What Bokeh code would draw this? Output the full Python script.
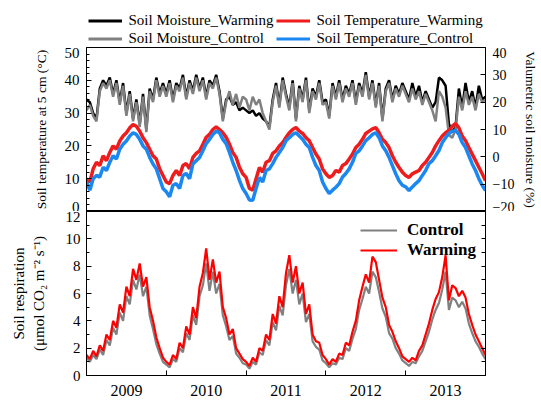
import numpy as np
from bokeh.plotting import figure
from bokeh.models import Range1d, LinearAxis, FixedTicker, Legend, LegendItem
from bokeh.layouts import column
from bokeh.embed import file_html
from bokeh.resources import INLINE

FONT = "Liberation Serif"

# ---------------- data (24 samples per year) ----------------
t0 = 2009.0
samples_per_year = 24
n_samples = 121
time = t0 + np.arange(n_samples) / samples_per_year

temp_warming = [
    10, 9, 13, 15, 14, 17, 15.5, 18, 20, 19, 21.5, 23, 24, 25.5, 26.5, 26, 24.5, 22.5, 21, 19, 17, 16, 13, 11,
    9, 8.5, 11, 12.5, 11, 14, 14.6, 13, 16.5, 17.7, 18.5, 20.5, 22.6, 23.5, 25, 25.8, 25, 24, 22.6, 20.5, 18, 16.5, 13.5, 11.5,
    10.4, 7, 6.5, 10, 13.4, 12, 15, 15.5, 17.7, 18.5, 20, 21, 22.6, 24, 25, 25.6, 24.5, 23.8, 22.5, 21.6, 19.5, 17.5, 16, 13,
    11.5, 10.4, 11, 12.5, 12, 14, 14.6, 16, 17.5, 19.5, 20.5, 22, 23.8, 24.5, 25.2, 25.6, 24, 22, 21, 19.5, 17, 15, 13.4, 12,
    11, 10.4, 11.5, 12, 12.5, 14, 15, 16.5, 18, 20, 21.6, 23, 24, 24.7, 26, 26.8, 25.5, 23, 21.6, 19.5, 17.5, 15.5, 13.5, 11.5, 9.4,
]
temp_control = [
    9, 6.5, 10, 11, 10.5, 13.5, 12.5, 15, 17, 16, 19, 20.5, 21.5, 23, 24, 23.5, 22, 20, 19, 16.5, 14.5, 13, 10, 7,
    6, 4.5, 8, 8.5, 7, 11, 11.6, 10, 14.5, 15.5, 16.5, 18.5, 20.7, 22, 23.5, 24.5, 24, 22, 20.7, 18, 15, 12.5, 9.5, 7,
    5.5, 3.5, 3.4, 7, 10.4, 9, 12.5, 13, 14.6, 16.5, 18, 19.5, 21.6, 22.5, 23.5, 24, 23, 22, 20.5, 19.5, 16.5, 14, 12.5, 9,
    7, 5.5, 6.5, 7.4, 8.5, 10.5, 11.6, 13, 15, 17.7, 18.5, 20, 21.6, 22.5, 23.5, 24, 22.5, 20, 18.5, 16.5, 14, 11.5, 9.4, 8,
    7.5, 6.4, 7.5, 8.5, 9.4, 11, 12.5, 14.6, 15.5, 17, 18.6, 21, 22.5, 23.8, 24.5, 24.7, 23.5, 21, 19.5, 17, 14.5, 12.5, 10, 8, 6.4,
]
moist_warming = [
    21, 20, 16, 14, 25, 28, 26, 29, 23, 28, 20, 27, 16, 24, 14, 21, 12, 23, 10, 25, 21, 29, 23, 27,
    23, 28, 21, 27, 25, 30, 22, 28, 24, 30, 25, 29, 22, 28, 26, 30, 24, 14, 21, 22, 19, 20, 17, 18,
    17, 16, 17, 15, 16, 14, 13, 11, 21, 27, 19, 29, 23, 18, 28, 14, 26, 21, 29, 17, 25, 22, 28, 20,
    21, 15, 27, 22, 28, 21, 26, 23, 28, 20, 27, 23, 31, 22, 28, 19, 27, 14, 25, 28, 21, 26, 23, 27,
    24, 21, 27, 22, 26, 20, 24, 21, 18, 20, 29, 28, 26, 12, 9, 11, 25, 18, 27, 20, 24, 18, 26, 21, 22,
]
moist_control = [
    17, 19, 15, 13, 24, 27, 25, 28, 22, 27, 19, 26, 15, 23, 13, 20, 11, 22, 9, 24, 20, 28, 22, 26,
    22, 27, 20, 26, 24, 29, 21, 27, 23, 29, 24, 28, 21, 27, 25, 29, 23, 13, 20, 24, 19, 23, 18, 22,
    21, 17, 22, 19, 21, 16, 13, 10, 20, 26, 18, 28, 22, 17, 27, 13, 25, 20, 28, 16, 24, 21, 27, 19,
    20, 14, 26, 21, 27, 20, 25, 22, 27, 19, 26, 22, 30, 21, 27, 18, 26, 13, 24, 27, 20, 25, 22, 26,
    23, 20, 25, 21, 24, 19, 23, 20, 17, 13, 24, 22, 18, 8, 7, 10, 22, 17, 24, 19, 22, 17, 23, 20, 21,
]
resp_warming = [
    1.5, 1.2, 1.8, 1.4, 2.2, 1.8, 3.0, 2.6, 4.0, 3.5, 5.2, 4.6, 6.5, 5.8, 7.8, 7.0, 8.2, 6.5, 7.2, 5.0, 4.0, 2.8, 2.0, 1.3,
    1.0, 0.8, 1.5, 1.2, 2.4, 2.0, 3.6, 3.0, 5.0, 4.2, 6.5, 7.5, 9.3, 7.0, 8.5, 6.8, 7.6, 5.0, 4.2, 3.0, 3.4, 2.0, 1.6, 1.2,
    1.0, 0.7, 1.3, 1.0, 2.0, 1.8, 3.0, 2.6, 4.5, 3.8, 5.8, 5.0, 7.5, 8.8, 6.8, 8.0, 6.0, 6.8, 4.5, 5.2, 3.0, 2.5, 2.4, 1.5,
    1.2, 0.8, 1.2, 1.0, 1.6, 1.5, 2.4, 2.2, 3.2, 4.0, 5.5, 6.5, 7.4, 6.8, 8.7, 8.3, 7.0, 5.7, 5.0, 3.7, 3.2, 2.5, 2.0, 1.4,
    1.2, 1.0, 1.3, 1.1, 1.8, 2.2, 3.0, 3.8, 4.8, 5.6, 6.1, 7.2, 8.8, 5.5, 6.6, 6.4, 5.8, 6.2, 5.7, 4.5, 3.7, 3.0, 2.5, 2.0, 1.5,
]
resp_control = [
    1.3, 1.0, 1.5, 1.2, 1.9, 1.5, 2.6, 2.2, 3.5, 3.0, 4.6, 4.0, 5.8, 5.2, 7.0, 6.3, 7.4, 5.8, 6.5, 4.4, 3.4, 2.3, 1.6, 1.0,
    0.8, 0.6, 1.2, 1.0, 2.0, 1.7, 3.1, 2.6, 4.4, 3.7, 5.8, 6.6, 8.2, 6.2, 7.6, 6.0, 6.7, 4.4, 3.6, 2.6, 2.9, 1.6, 1.3, 0.9,
    0.8, 0.5, 1.0, 0.8, 1.7, 1.5, 2.6, 2.2, 3.9, 3.3, 5.1, 4.4, 6.6, 7.8, 6.0, 7.0, 5.2, 6.0, 3.9, 4.5, 2.5, 2.1, 1.9, 1.1,
    0.9, 0.6, 0.9, 0.8, 1.3, 1.2, 2.0, 1.8, 2.7, 3.4, 4.8, 5.6, 6.5, 6.0, 7.6, 7.2, 6.1, 4.9, 4.3, 3.1, 2.7, 2.0, 1.6, 1.1,
    0.9, 0.7, 1.0, 0.9, 1.4, 1.8, 2.5, 3.2, 4.1, 4.8, 5.3, 6.3, 7.6, 4.8, 5.7, 5.5, 5.0, 5.4, 4.9, 3.8, 3.1, 2.5, 2.1, 1.6, 1.2,
]

year_bounds = [2009, 2010, 2011, 2012, 2013, 2014]
year_centers = [2009.5, 2010.5, 2011.5, 2012.5, 2013.5]
year_labels = ["2009", "2010", "2011", "2012", "2013"]
temp_ticks = [0, 10, 20, 30, 40, 50]
temp_minor = list(range(0, 51, 2))
moist_ticks = [-20, -10, 0, 10, 20, 30, 40]
moist_minor = list(range(-20, 41, 5))
resp_ticks = [0, 2, 4, 6, 8, 10, 12]
resp_minor = list(range(0, 13, 1))

top_legend = ["Soil Moisture_Warming", "Soil Moisture_Control",
              "Soil Temperature_Warming", "Soil Temperature_Control"]
bottom_legend = ["Control", "Warming"]

RED = "#ee1c1c"
BLUE = "#1a88f0"
GREY = "#808080"
BLACK = "#000000"

W = 541
LB, RB = 86, 54


def style_axis(ax, label_size="15px"):
    ax.axis_line_color = "black"
    ax.axis_line_width = 1
    ax.major_tick_line_color = "black"
    ax.minor_tick_line_color = "black"
    ax.major_tick_in = 5
    ax.major_tick_out = 0
    ax.minor_tick_in = 3
    ax.minor_tick_out = 0
    ax.major_label_text_font = FONT
    ax.major_label_text_font_size = label_size
    ax.major_label_text_color = "black"
    ax.axis_label_text_font = FONT
    ax.axis_label_text_font_style = "normal"
    ax.axis_label_text_font_size = "15px"
    ax.axis_label_text_color = "black"


def base_fig(height, x_range, y_range, left, right, top, bottom):
    f = figure(width=W, height=height, x_range=x_range, y_range=y_range,
               output_backend="svg", toolbar_location=None,
               x_axis_location=None, y_axis_location=None,
               min_border_left=left, min_border_right=right,
               min_border_top=top, min_border_bottom=bottom)
    f.background_fill_color = "white"
    f.border_fill_color = "white"
    f.grid.visible = False
    return f


xr = Range1d(2009, 2014)

# ---------------- legend strip (top); the key lines lie outside its view ----------------
p0 = base_fig(47, Range1d(0, 1), Range1d(0, 1), LB, RB, 0, 0)
p0.outline_line_color = None
k_smw = p0.line(time, moist_warming, line_color=BLACK, line_width=3)
k_smc = p0.line(time, moist_control, line_color=GREY, line_width=3)
k_stw = p0.line(time, temp_warming, line_color=RED, line_width=3)
k_stc = p0.line(time, temp_control, line_color=BLUE, line_width=3)
leg_top = Legend(items=[LegendItem(label=lab, renderers=[r])
                        for lab, r in zip(top_legend, [k_smw, k_smc, k_stw, k_stc])],
                 location=(1.5, 0.5), orientation="vertical", ncols=2,
                 label_text_font=FONT, label_text_font_size="15px", label_text_color="black",
                 glyph_width=34, glyph_height=17, label_height=17, label_width=146, label_standoff=7,
                 spacing=1, padding=1, margin=0,
                 border_line_color=None, background_fill_alpha=0)
p0.add_layout(leg_top)

# ---------------- top panel ----------------
p1 = base_fig(164, xr, Range1d(0, 50), LB, RB, 0, 0)
p1.extra_y_ranges = {"moist": Range1d(-20, 40)}
p1.outline_line_color = "black"
p1.outline_line_width = 1

ax_l = LinearAxis(ticker=FixedTicker(ticks=temp_ticks, minor_ticks=temp_minor),
                  axis_label="Soil temperature at 5 cm (\u00b0C)")
style_axis(ax_l)
ax_l.axis_label_text_font_size = "13.5px"
ax_l.major_label_standoff = 7
ax_l.axis_label_standoff = 13
p1.add_layout(ax_l, "left")

ax_r = LinearAxis(y_range_name="moist", ticker=FixedTicker(ticks=moist_ticks, minor_ticks=moist_minor),
                  axis_label="Valumetric soil moisture (%)")
style_axis(ax_r, label_size="14px")
ax_r.minor_tick_in = 0
ax_r.axis_label_text_font_size = "13.5px"
ax_r.major_label_standoff = 7
ax_r.axis_label_standoff = 6
p1.add_layout(ax_r, "right")

p1.line(time, moist_warming, y_range_name="moist", line_color=BLACK, line_width=2.5)
p1.line(time, moist_control, y_range_name="moist", line_color=GREY, line_width=2.5)
p1.line(time, temp_warming, line_color=RED, line_width=3.5)
p1.line(time, temp_control, line_color=BLUE, line_width=3.5)

# ---------------- bottom panel ----------------
p2 = base_fig(191, xr, Range1d(0, 12), LB, RB, 0, 27)
p2.outline_line_color = "black"
p2.outline_line_width = 1

ax_l2 = LinearAxis(ticker=FixedTicker(ticks=resp_ticks, minor_ticks=resp_minor),
                   axis_label="Soil respiration\n(\u03bcmol CO\u2082 m\u207b\u00b2 s\u207b\u00b9)")
style_axis(ax_l2)
ax_l2.major_label_standoff = 6
ax_l2.axis_label_standoff = 16
p2.add_layout(ax_l2, "left")

ax_r2 = LinearAxis(ticker=FixedTicker(ticks=[], minor_ticks=resp_minor))
style_axis(ax_r2)
ax_r2.minor_tick_in = 4
ax_r2.major_label_standoff = 0
p2.add_layout(ax_r2, "right")

ax_b2 = LinearAxis(ticker=FixedTicker(ticks=year_centers, minor_ticks=year_bounds),
                   major_label_overrides={c: l for c, l in zip(year_centers, year_labels)})
style_axis(ax_b2, label_size="16px")
ax_b2.major_tick_in = 0
ax_b2.minor_tick_in = 5
ax_b2.major_label_standoff = 9
p2.add_layout(ax_b2, "below")

r_c = p2.line(time, resp_control, line_color=GREY, line_width=2.2)
r_w = p2.line(time, resp_warming, line_color="#ff0000", line_width=2.2)

leg_c = Legend(items=[LegendItem(label=bottom_legend[0], renderers=[r_c]),
                      LegendItem(label=bottom_legend[1], renderers=[r_w])],
               location=(274, 115), orientation="vertical",
               label_text_font=FONT, label_text_font_size="17px", label_text_font_style="bold",
               label_text_color="black",
               glyph_width=37, glyph_height=20, label_height=20, label_standoff=10,
               spacing=0, padding=0, margin=0,
               border_line_color=None, background_fill_alpha=0)
p2.add_layout(leg_c)

layout = column(p0, p1, p2, spacing=0)
open("out.html", "w").write(file_html(layout, INLINE))
